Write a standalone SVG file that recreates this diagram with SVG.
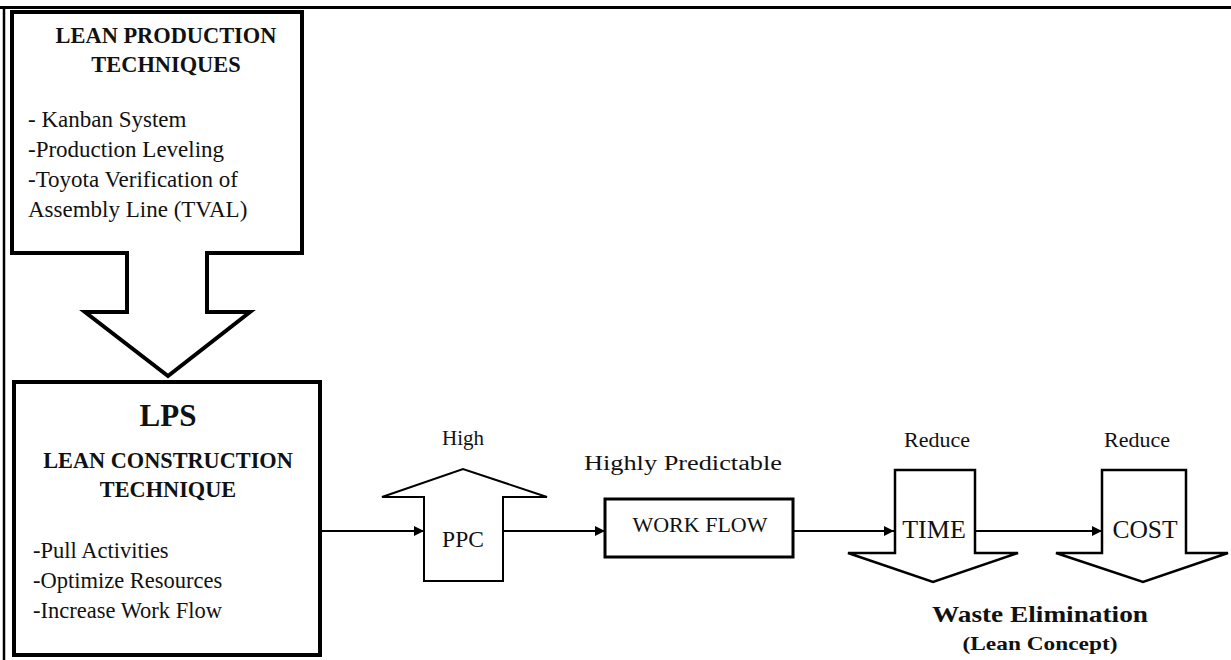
<svg xmlns="http://www.w3.org/2000/svg" width="1231" height="660" viewBox="0 0 1231 660">
  <defs>
    <marker id="ah" viewBox="0 0 10 10" refX="10" refY="5" markerWidth="5" markerHeight="5" markerUnits="strokeWidth" orient="auto">
      <path d="M0,0 L10,5 L0,10 Z" fill="#000"/>
    </marker>
    <style>
      .t { font-family: "Liberation Serif", "Times New Roman", serif; fill: #111; }
      .b { font-weight: bold; }
      .c { text-anchor: middle; }
      .shape { fill: #fff; stroke: #000; stroke-linejoin: miter; }
      .conn { stroke: #000; stroke-width: 2; fill: none; }
    </style>
  </defs>
  <rect x="0" y="0" width="1231" height="660" fill="#fff"/>
  <g id="frame">
    <line x1="0" y1="7.5" x2="1231" y2="7.5" stroke="#000" stroke-width="3"/>
    <line x1="4" y1="6" x2="4" y2="660" stroke="#000" stroke-width="2.5"/>
  </g>

  <g id="connectors">
    <line class="conn" x1="322" y1="531" x2="424" y2="531" marker-end="url(#ah)"/>
    <line class="conn" x1="503" y1="531" x2="605" y2="531" marker-end="url(#ah)"/>
    <line class="conn" x1="793" y1="531" x2="894" y2="531" marker-end="url(#ah)"/>
    <line class="conn" x1="976" y1="531" x2="1102" y2="531" marker-end="url(#ah)"/>
  </g>

  <g id="lean-production">
    <path class="shape" stroke-width="4" d="M12 12 H302 V253 H207 V312 H250 L168 376 L85 312 H127 V253 H12 Z"/>
    <text class="t b c" x="166" y="43" font-size="22.4">LEAN PRODUCTION</text>
    <text class="t b c" x="166" y="72" font-size="22.4">TECHNIQUES</text>
    <text class="t" x="28" y="127" font-size="23">- Kanban System</text>
    <text class="t" x="28" y="157" font-size="23">-Production Leveling</text>
    <text class="t" x="28" y="187" font-size="23">-Toyota Verification of</text>
    <text class="t" x="28" y="217" font-size="23">Assembly Line (TVAL)</text>
  </g>

  <g id="lps">
    <rect class="shape" stroke-width="4" x="14" y="382" width="306" height="273"/>
    <text class="t b c" x="168" y="426" font-size="31">LPS</text>
    <text class="t b c" x="168" y="468" font-size="22.3">LEAN CONSTRUCTION</text>
    <text class="t b c" x="168" y="497" font-size="22.3">TECHNIQUE</text>
    <text class="t" x="33" y="558" font-size="22.5">-Pull Activities</text>
    <text class="t" x="33" y="588" font-size="22.5">-Optimize Resources</text>
    <text class="t" x="33" y="618" font-size="22.5">-Increase Work Flow</text>
  </g>

  <g id="ppc">
    <text class="t c" x="463" y="445" font-size="21">High</text>
    <path class="shape" stroke-width="2" d="M424 581 V497 H382 L463 469 L547 497 H503 V581 Z"/>
    <text class="t c" x="463" y="547" font-size="23.5">PPC</text>
  </g>

  <g id="workflow">
    <text class="t c" x="683" y="470" font-size="20" textLength="198" lengthAdjust="spacingAndGlyphs">Highly Predictable</text>
    <rect class="shape" stroke-width="3" x="605" y="499" width="188" height="58"/>
    <text class="t c" x="700" y="532" font-size="22">WORK FLOW</text>
  </g>

  <g id="time">
    <text class="t c" x="937" y="447" font-size="22">Reduce</text>
    <path class="shape" stroke-width="2.5" d="M895 470 H975 V553 H1018 L933 582 L848 553 H895 Z"/>
    <text class="t c" x="934" y="538" font-size="26">TIME</text>
  </g>

  <g id="cost">
    <text class="t c" x="1137" y="447" font-size="22">Reduce</text>
    <path class="shape" stroke-width="2.5" d="M1102 470 H1186 V553 H1228 L1143 582 L1056 553 H1102 Z"/>
    <text class="t c" x="1145" y="538" font-size="25.5">COST</text>
  </g>

  <g id="waste">
    <text class="t b c" x="1040" y="622" font-size="24" textLength="216" lengthAdjust="spacingAndGlyphs">Waste Elimination</text>
    <text class="t b c" x="1040" y="650" font-size="19" textLength="155" lengthAdjust="spacingAndGlyphs">(Lean Concept)</text>
  </g>
</svg>
